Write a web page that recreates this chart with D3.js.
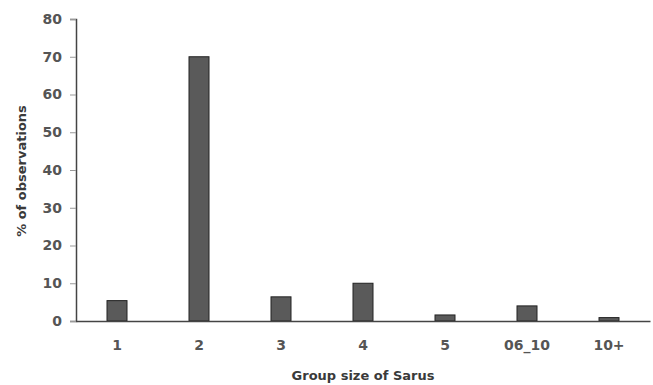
<!DOCTYPE html>
<html>
<head>
<meta charset="utf-8">
<script src="https://cdn.jsdelivr.net/npm/d3@7"></script>
<style>
  body { margin: 0; background: #fff; }
  .axis text { font-family: "DejaVu Sans", sans-serif; font-size: 14px; font-weight: bold; fill: #555; }
  .axis-title { font-family: "DejaVu Sans", sans-serif; font-size: 13px; font-weight: bold; fill: #3a3a3a; }
</style>
</head>
<body>
<svg id="chart"></svg>
<script>
const categories = ["1", "2", "3", "4", "5", "06_10", "10+"];
const values = [5.4, 70, 6.4, 10, 1.6, 4, 0.9];
const yTicks = [0, 10, 20, 30, 40, 50, 60, 70, 80];

const width = 653, height = 385;
const margin = {top: 19, right: 3, bottom: 64, left: 76};
const innerW = width - margin.left - margin.right;
const innerH = height - margin.top - margin.bottom;

const svg = d3.select("#chart")
    .attr("width", width)
    .attr("height", height);

const chart = svg.append("g")
    .attr("transform", `translate(${margin.left},${margin.top})`);

const xScale = d3.scaleBand()
    .domain(categories)
    .range([0, innerW]);

const yScale = d3.scaleLinear()
    .domain([0, 80])
    .range([innerH, 0]);

// bars
const barW = 20;
chart.selectAll(".bar")
    .data(categories.map((c, i) => ({cat: c, val: values[i]})))
    .join("rect")
    .attr("class", "bar")
    .attr("x", d => xScale(d.cat) + xScale.bandwidth() / 2 - barW / 2)
    .attr("y", d => yScale(d.val))
    .attr("width", barW)
    .attr("height", d => innerH - yScale(d.val))
    .attr("fill", "#5a5a5a")
    .attr("stroke", "#222")
    .attr("stroke-width", 1);

// y axis
const yAxisG = chart.append("g")
    .attr("class", "axis y-axis")
    .call(d3.axisLeft(yScale).tickValues(yTicks).tickSize(6).tickPadding(8));
yAxisG.select(".domain").attr("stroke", "#444").attr("stroke-width", 1.5);
yAxisG.selectAll(".tick line").attr("stroke", "#999");

// x axis
const xAxisG = chart.append("g")
    .attr("class", "axis x-axis")
    .attr("transform", `translate(0,${innerH})`)
    .call(d3.axisBottom(xScale).tickSize(0).tickPadding(19));
xAxisG.select(".domain").attr("stroke", "#444").attr("stroke-width", 1.5);

// axis titles
svg.append("text")
    .attr("class", "axis-title")
    .attr("x", margin.left + innerW / 2)
    .attr("y", 380)
    .attr("text-anchor", "middle")
    .text("Group size of Sarus");

svg.append("text")
    .attr("class", "axis-title")
    .attr("transform", "translate(26,171) rotate(-90)")
    .attr("text-anchor", "middle")
    .text("% of observations");
</script>
</body>
</html>
